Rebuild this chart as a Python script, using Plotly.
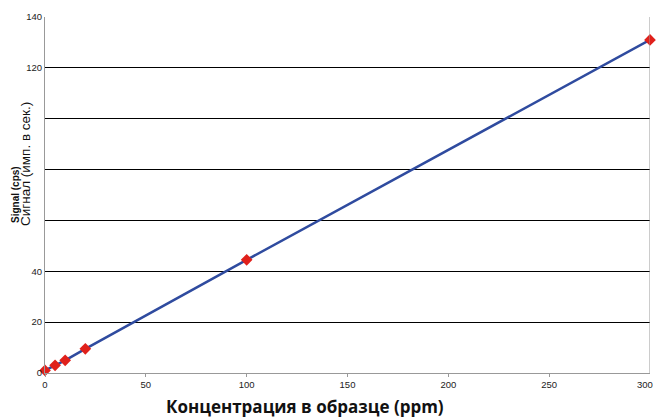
import plotly.graph_objects as go

conc = [0, 5, 10, 20, 100, 300]
signal = [1.0, 3.0, 5.0, 9.5, 44.5, 131.0]
y_ticks = [0, 20, 40, 60, 80, 100, 120, 140]
y_tick_labels = ["0", "20", "40", "", "", "", "120", "140"]
x_ticks = [0, 50, 100, 150, 200, 250, 300]
x_tick_labels = ["0", "50", "100", "150", "200", "250", "300"]

fig = go.Figure()
fig.add_trace(go.Scatter(
    x=conc, y=signal, mode="lines+markers",
    line=dict(color="#2f4b9f", width=2.5),
    marker=dict(symbol="diamond", size=9, color="#e0201b"),
    cliponaxis=False, showlegend=False, hoverinfo="skip"))

W, H = 656, 418
ml, mr, mt, mb = 45, 6, 17, 418 - 373
pw = W - ml - mr
ph = H - mt - mb

def px_x(p):
    return (p - ml) / pw

def px_y(p):
    return (H - mb - p) / ph

fig.update_layout(
    width=W, height=H,
    margin=dict(l=ml, r=mr, t=mt, b=mb, autoexpand=False),
    paper_bgcolor="white", plot_bgcolor="white",
    font=dict(family="Liberation Sans, Arial", size=9.5, color="#222222"),
    xaxis=dict(range=[0, 300], tickvals=x_ticks[:-1], ticktext=x_tick_labels[:-1],
               showgrid=False,
               showline=True, linecolor="#999999", linewidth=1, mirror=False,
               ticks="outside", ticklen=3, tickcolor="#999999", zeroline=False,
               ticklabeloverflow="allow", automargin=False),
    yaxis=dict(range=[0, 140], tickvals=y_ticks, ticktext=y_tick_labels,
               showgrid=True, gridcolor="#000000", gridwidth=1,
               showline=True, linecolor="#999999", linewidth=1,
               ticks="", zeroline=False, ticklabeloverflow="allow", automargin=False),
)
fig.add_shape(type="line", xref="x", yref="paper", x0=300, x1=300, y0=0, y1=1,
              line=dict(color="#999999", width=1))
# last x tick label, kept inside the page edge
fig.add_annotation(text=x_tick_labels[-1], xref="x", yref="paper",
                   x=x_ticks[-1], y=0, yshift=-4, xshift=5,
                   xanchor="right", yanchor="top", showarrow=False,
                   font=dict(family="Liberation Sans, Arial", size=9.5, color="#222222"))

fig.add_annotation(text="<b>Концентрация в образце (ppm)</b>", xref="paper", yref="paper",
                   x=px_x(305), y=px_y(407),
                   xanchor="center", yanchor="middle", showarrow=False,
                   font=dict(family="Open Sans, Liberation Sans", size=17, color="#111111"))
fig.add_annotation(text="<b>Signal (cps)</b>", xref="paper", yref="paper",
                   x=px_x(15.5), y=px_y(225),
                   xanchor="center", yanchor="bottom", textangle=-90, showarrow=False,
                   font=dict(family="Liberation Sans, Arial", size=10, color="#111111"))
fig.add_annotation(text="Сигнал (имп. в сек.)", xref="paper", yref="paper",
                   x=px_x(25), y=px_y(228),
                   xanchor="center", yanchor="bottom", textangle=-90, showarrow=False,
                   font=dict(family="Liberation Sans, Arial", size=13.5, color="#111111"))

fig.write_html(
    "out.html",
    config={"displayModeBar": False},
    post_script="document.body.style.margin='0';document.body.style.overflow='hidden';"
)
